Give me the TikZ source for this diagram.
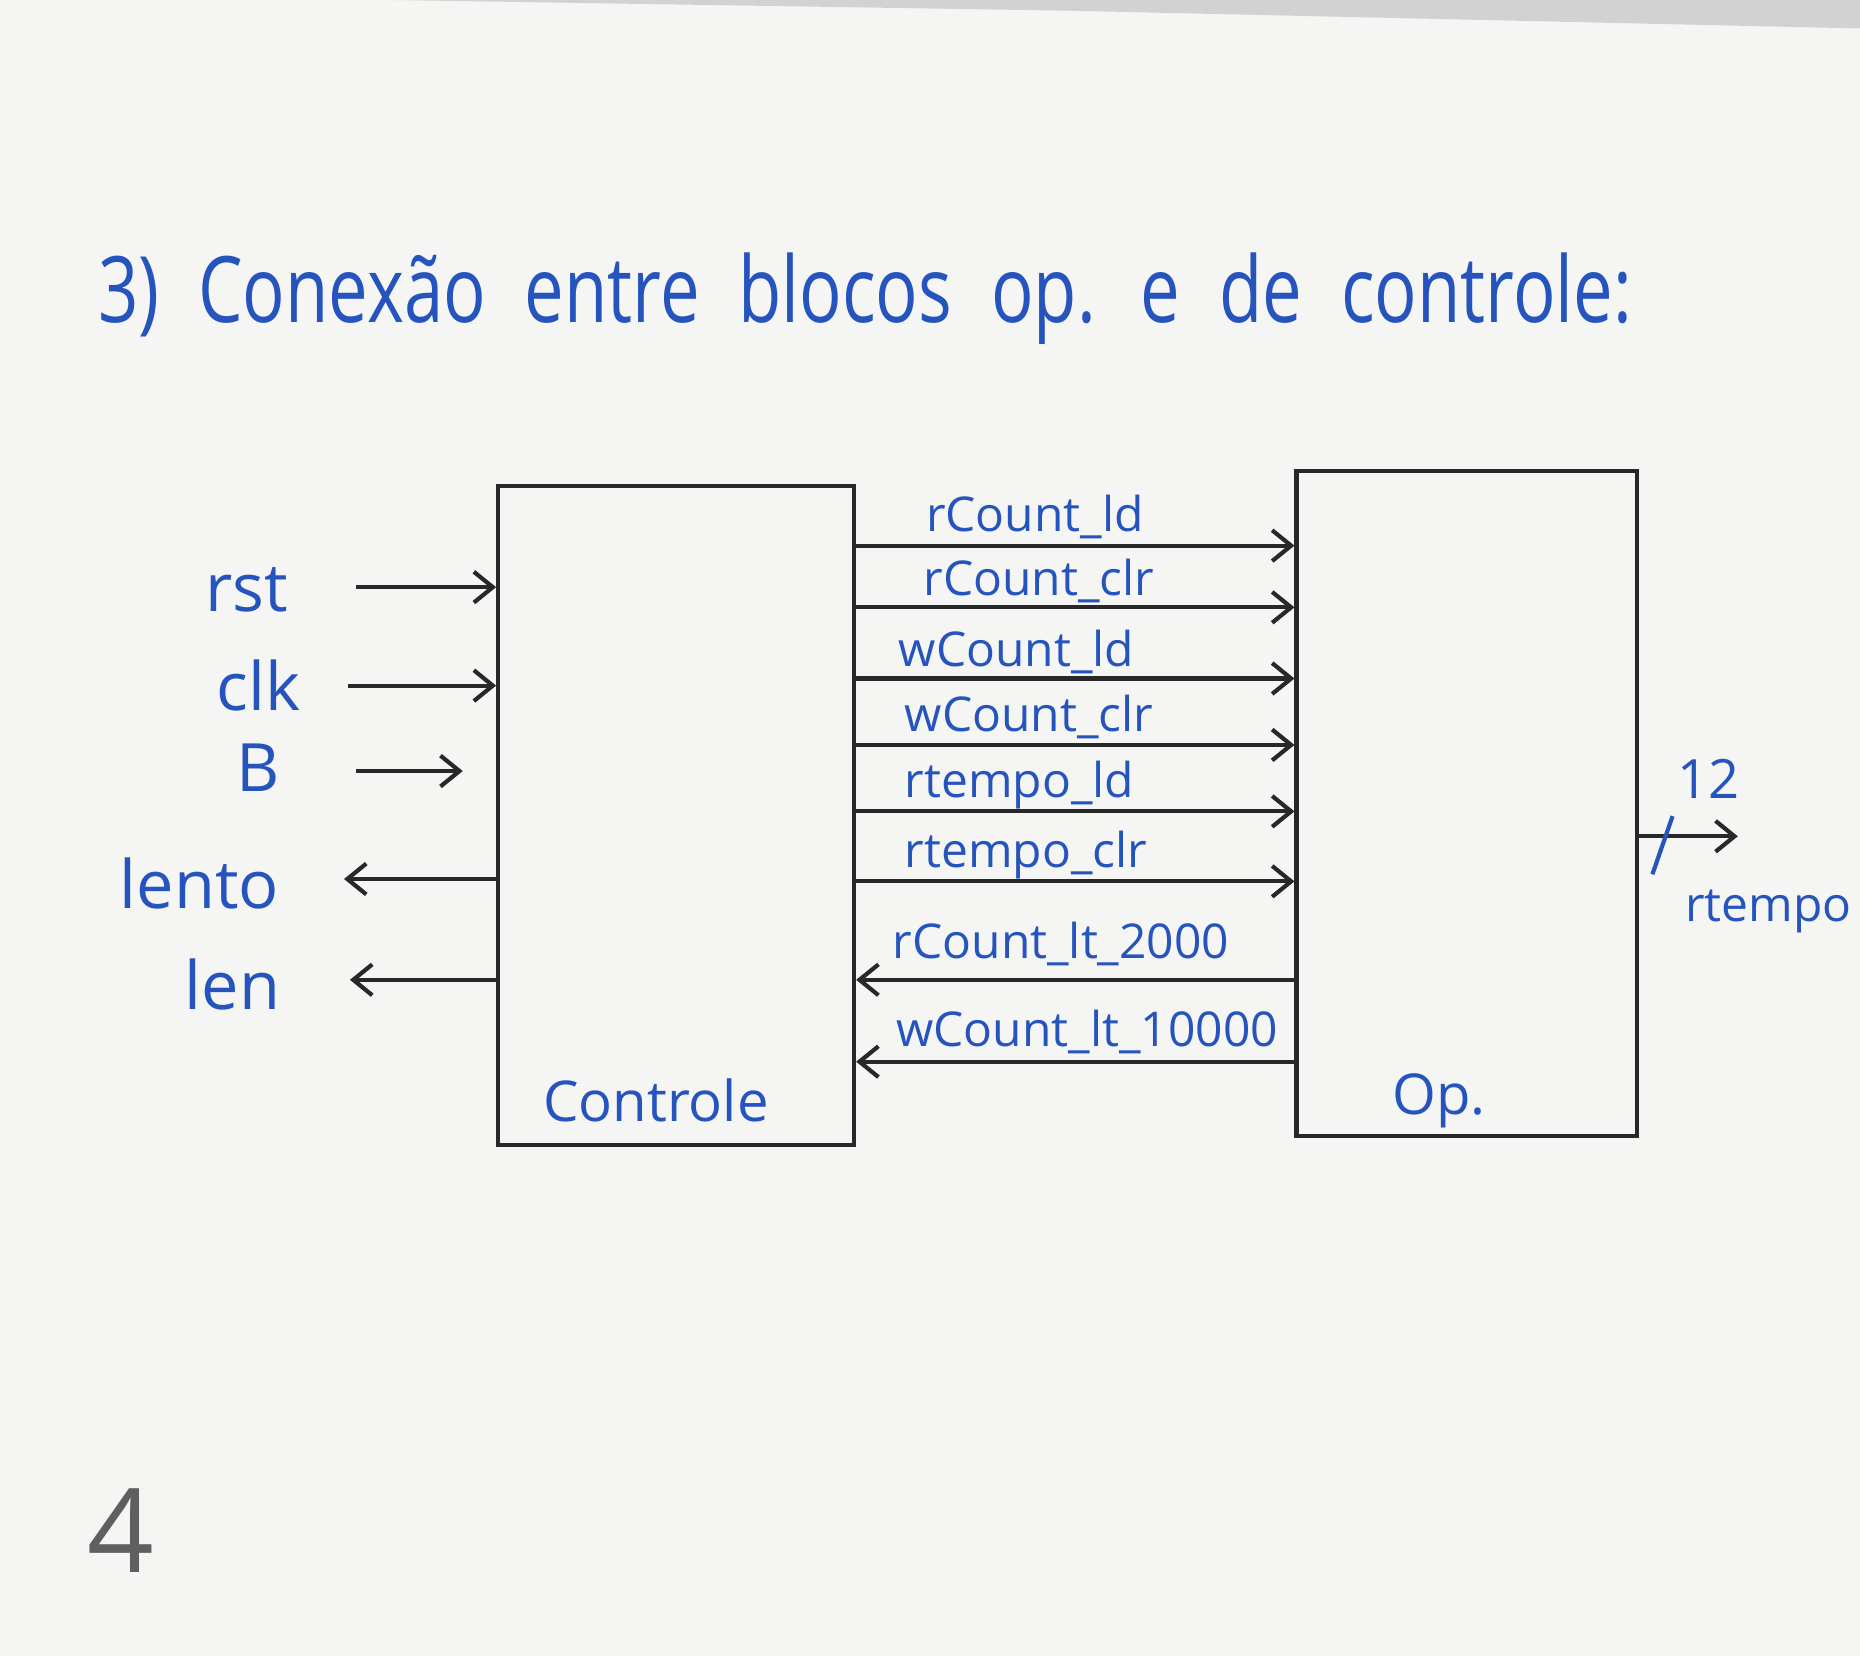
\documentclass[tikz,border=0pt]{standalone}
\usepackage{fontspec}
\setmainfont{Open Sans}
\usetikzlibrary{arrows.meta}
\definecolor{ink}{RGB}{38,84,190}
\definecolor{pen}{RGB}{40,40,40}
\definecolor{board}{RGB}{245,245,243}
\definecolor{pagenum}{RGB}{95,95,95}
\tikzset{
  blockbox/.style={draw=pen, line width=1pt, inner sep=0pt, rectangle},
  sig/.style={draw=pen, line width=1pt, -{Straight Barb[length=1.6mm,width=2.6mm,line width=1pt]}},
  lbl/.style={text=ink, font=\fontsize{11.5}{13}\selectfont, inner sep=0pt},
  io/.style={text=ink, font=\fontsize{16}{19}\selectfont, inner sep=0pt},
  blkname/.style={text=ink, font=\fontsize{13.5}{16}\selectfont, inner sep=0pt},
}
\begin{document}
\begin{tikzpicture}[x=0.1mm,y=-0.1mm]
\fill[board] (0,0) rectangle (1568,1396);
\useasboundingbox (0,0) rectangle (1568,1396);
\fill[gray!35] (330,0) -- (1568,0) -- (1568,24) -- (900,9) -- cycle;

% title
\node[text=ink, anchor=base west, inner sep=0pt, font=\fontsize{22}{26}\selectfont] (title) at (82,272)
  {\scalebox{0.77}[1]{\spaceskip=0.55em plus 0.1em 3) Conexão entre blocos op. e de controle:}};

% blocks
\node[blockbox, minimum width=30mm, minimum height=55.5mm] (ctrl) at (570,687.5) {};
\node[blockbox, minimum width=28.7mm, minimum height=56.1mm] (op) at (1236.5,677.5) {};
\node[blkname] (ctrlname) at (553,928) {Controle};
\node[blkname] (opname) at (1213,928) {Op.};

% left inputs / outputs
\coordinate (rstS) at (300,495);
\coordinate (clkS) at (293,578);
\coordinate (bS) at (300,650);
\coordinate (lentoE) at (290,741);
\coordinate (lenE) at (295,826);
\draw[sig] (rstS) -- (ctrl.west |- rstS);
\draw[sig] (clkS) -- (ctrl.west |- clkS);
\draw[sig, shorten >=8pt] (bS) -- (ctrl.west |- bS);
\draw[sig] (ctrl.west |- lentoE) -- (lentoE);
\draw[sig] (ctrl.west |- lenE) -- (lenE);
\node[io] (rst) at (208,497) {rst};
\node[io] (clk) at (218,578) {clk};
\node[io] (b) at (218,647) {B};
\node[io] (lento) at (168,745) {lento};
\node[io] (len) at (196,830) {len};

% signals between blocks
\coordinate (y1) at (0,460);
\coordinate (y2) at (0,512);
\coordinate (y3) at (0,572);
\coordinate (y4) at (0,628);
\coordinate (y5) at (0,684);
\coordinate (y6) at (0,743);
\coordinate (y7) at (0,826);
\coordinate (y8) at (0,895);
\draw[sig] (ctrl.east |- y1) -- (op.west |- y1);
\draw[sig] (ctrl.east |- y2) -- (op.west |- y2);
\draw[sig] (ctrl.east |- y3) -- (op.west |- y3);
\draw[sig] (ctrl.east |- y4) -- (op.west |- y4);
\draw[sig] (ctrl.east |- y5) -- (op.west |- y5);
\draw[sig] (ctrl.east |- y6) -- (op.west |- y6);
\draw[sig] (op.west |- y7) -- (ctrl.east |- y7);
\draw[sig] (op.west |- y8) -- (ctrl.east |- y8);
\node[lbl, anchor=base west] (s1) at (780,448) {rCount\_ld};
\node[lbl, anchor=base west] (s2) at (778,502) {rCount\_clr};
\node[lbl, anchor=base west] (s3) at (757,562) {wCount\_ld};
\node[lbl, anchor=base west] (s4) at (762,617) {wCount\_clr};
\node[lbl, anchor=base west] (s5) at (762,672) {rtempo\_ld};
\node[lbl, anchor=base west] (s6) at (762,731) {rtempo\_clr};
\node[lbl, anchor=base west] (s7) at (752,808) {rCount\_lt\_2000};
\node[lbl, anchor=base west] (s8) at (755,882) {wCount\_lt\_10000};

% output
\coordinate (outE) at (1465,705);
\draw[sig] (op.east |- outE) -- (outE);
\draw[ink, line width=1pt] (1393,737) -- (1410,688);
\node[lbl, font=\fontsize{13}{15}\selectfont] (w12) at (1440,657) {12};
\node[lbl, anchor=west, font=\fontsize{11.5}{14}\selectfont] (rtempo) at (1420,768) {rtempo};

% page number
\node[text=pagenum, font=\fontsize{28}{32}\selectfont, inner sep=0pt] (pg) at (102,1290) {4};
\end{tikzpicture}
\end{document}
